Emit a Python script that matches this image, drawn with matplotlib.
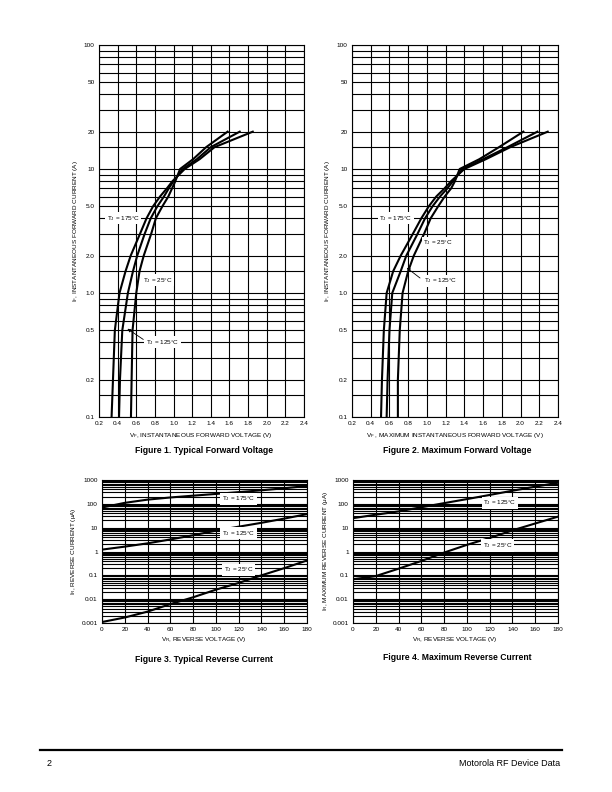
import matplotlib.pyplot as plt
import numpy as np

plt.rcParams['font.family'] = ['Liberation Sans', 'DejaVu Sans']
plt.rcParams['mathtext.default'] = 'regular'

# ── data ───────────────────────────────────────────────────────
fwd_current = [0.1, 0.2, 0.5, 1.0, 1.5, 2.0, 3.0, 4.0, 5.0, 6.0, 7.0, 8.0, 10.0, 12.0, 15.0, 20.0]

# Figure 1: typical forward voltage (V)
typ_vf_175 = [0.335, 0.35, 0.37, 0.42, 0.485, 0.54, 0.64, 0.71, 0.78, 0.855, 0.93, 0.99, 1.12, 1.28, 1.44, 1.85]
typ_vf_125 = [0.415, 0.425, 0.45, 0.51, 0.565, 0.61, 0.69, 0.755, 0.826, 0.897, 0.95, 1.00, 1.10, 1.25, 1.40, 1.71]
typ_vf_25 = [0.543, 0.55, 0.56, 0.60, 0.635, 0.68, 0.76, 0.81, 0.88, 0.944, 0.985, 1.02, 1.07, 1.21, 1.35, 1.58]

# Figure 2: maximum forward voltage (V)
max_vf_175 = [0.51, 0.52, 0.54, 0.57, 0.64, 0.72, 0.85, 0.94, 1.02, 1.10, 1.19, 1.26, 1.40, 1.63, 1.89, 2.29]
max_vf_125 = [0.57, 0.58, 0.60, 0.63, 0.72, 0.78, 0.90, 0.98, 1.06, 1.14, 1.22, 1.28, 1.38, 1.60, 1.86, 2.18]
max_vf_25 = [0.69, 0.69, 0.71, 0.74, 0.80, 0.86, 0.97, 1.04, 1.12, 1.19, 1.26, 1.30, 1.35, 1.56, 1.77, 2.03]

rev_voltage = [0, 20, 40, 60, 80, 100, 120, 140, 160, 180]

# Figure 3: typical reverse current (uA)
typ_ir_175 = [70, 110, 150, 185, 220, 260, 310, 370, 450, 560]
typ_ir_125 = [1.2, 1.6, 2.2, 3.2, 4.8, 7.5, 11, 16, 24, 37]
typ_ir_25 = [0.0011, 0.0017, 0.003, 0.0062, 0.012, 0.025, 0.048, 0.10, 0.20, 0.42]

# Figure 4: maximum reverse current (uA)
max_ir_125 = [25, 35, 48, 72, 107, 158, 236, 355, 525, 770]
max_ir_25 = [0.068, 0.093, 0.19, 0.40, 0.90, 1.9, 3.7, 7.7, 15, 29]

fwd_xticks = [0.2, 0.4, 0.6, 0.8, 1.0, 1.2, 1.4, 1.6, 1.8, 2.0, 2.2, 2.4]
fwd_yticks = [0.1, 0.2, 0.5, 1.0, 2.0, 5.0, 10, 20, 50, 100]
fwd_ylabels = ['0.1', '0.2', '0.5', '1.0', '2.0', '5.0', '10', '20', '50', '100']
rev_xticks = [0, 20, 40, 60, 80, 100, 120, 140, 160, 180]
rev_yticks = [0.001, 0.01, 0.1, 1, 10, 100, 1000]
rev_ylabels = ['0.001', '0.01', '0.1', '1', '10', '100', '1000']

W, H = 612, 792
fig = plt.figure(figsize=(W / 100, H / 100), dpi=100, facecolor='white')


def px_axes(l, t, r, b):
    return fig.add_axes([l / W, 1 - b / H, (r - l) / W, (b - t) / H])


def fig_text(x, y, s, **kw):
    fig.text(x / W, 1 - y / H, s, **kw)


TICK_FS = 4.6
LBL_FS = 4.6
GRID_LW = 0.8
CURVE_LW = 1.5


def style_ax(ax, xticks, yticks, ylabels, mantissas, decades):
    ax.set_yscale('log')
    ax.set_xticks(xticks)
    ax.set_xticklabels([f'{t:g}' if isinstance(t, int) else f'{t:.1f}' for t in xticks])
    ax.set_yticks(yticks)
    ax.set_yticklabels(ylabels)
    minor = [m * 10.0 ** d for d in decades for m in mantissas]
    ax.set_yticks(minor, minor=True)
    ax.set_yticklabels([], minor=True)
    ax.tick_params(which='both', length=0, labelsize=TICK_FS, pad=3)
    ax.grid(True, which='both', color='black', linewidth=GRID_LW)
    for s in ax.spines.values():
        s.set_linewidth(GRID_LW)
    ax.set_axisbelow(True)


def tj_label(ax, x, y, s):
    ax.text(x, y, s, ha='center', va='center', fontsize=LBL_FS, zorder=6,
            bbox=dict(facecolor='white', edgecolor='none', pad=1.2))


# ── Figure 1 ──────────────────────────────────────────────────
ax1 = px_axes(99, 45, 304, 417)
ax1.plot(typ_vf_175, fwd_current, color='black', lw=CURVE_LW, zorder=4)
ax1.plot(typ_vf_125, fwd_current, color='black', lw=CURVE_LW, zorder=4)
ax1.plot(typ_vf_25, fwd_current, color='black', lw=CURVE_LW, zorder=4)
ax1.set_xlim(0.2, 2.4)
ax1.set_ylim(0.1, 100)
style_ax(ax1, fwd_xticks, fwd_yticks, fwd_ylabels,
         [1, 1.5, 2, 3, 4, 5, 6, 7, 8, 9], [-1, 0, 1])
tj_label(ax1, 0.46, 4.0, 'T$_J$ = 175°C')
tj_label(ax1, 0.83, 1.27, 'T$_J$ = 25°C')
tj_label(ax1, 0.88, 0.40, 'T$_J$ = 125°C')
ax1.annotate('', xy=(0.48, 0.53), xytext=(0.70, 0.41),
             arrowprops=dict(arrowstyle='-|>', color='black', lw=0.6,
                             mutation_scale=5), zorder=5)

# ── Figure 2 ──────────────────────────────────────────────────
ax2 = px_axes(352, 45, 558, 417)
ax2.plot(max_vf_175, fwd_current, color='black', lw=CURVE_LW, zorder=4)
ax2.plot(max_vf_125, fwd_current, color='black', lw=CURVE_LW, zorder=4)
ax2.plot(max_vf_25, fwd_current, color='black', lw=CURVE_LW, zorder=4)
ax2.set_xlim(0.2, 2.4)
ax2.set_ylim(0.1, 100)
style_ax(ax2, fwd_xticks, fwd_yticks, fwd_ylabels,
         [1, 1.5, 2, 3, 4, 5, 6, 7, 8, 9], [-1, 0, 1])
tj_label(ax2, 0.67, 4.0, 'T$_J$ = 175°C')
tj_label(ax2, 1.12, 2.53, 'T$_J$ = 25°C')
tj_label(ax2, 1.15, 1.25, 'T$_J$ = 125°C')
ax2.annotate('', xy=(0.76, 1.65), xytext=(0.95, 1.28),
             arrowprops=dict(arrowstyle='-|>', color='black', lw=0.6,
                             mutation_scale=5), zorder=5)

# ── Figure 3 ──────────────────────────────────────────────────
ax3 = px_axes(102, 480, 307, 623)
ax3.plot(rev_voltage, typ_ir_175, color='black', lw=CURVE_LW, zorder=4)
ax3.plot(rev_voltage, typ_ir_125, color='black', lw=CURVE_LW, zorder=4)
ax3.plot(rev_voltage, typ_ir_25, color='black', lw=CURVE_LW, zorder=4)
ax3.set_xlim(0, 180)
ax3.set_ylim(0.001, 1000)
style_ax(ax3, rev_xticks, rev_yticks, rev_ylabels,
         [1, 2, 3, 4, 5, 6, 7, 8, 9], [-3, -2, -1, 0, 1, 2])
tj_label(ax3, 120, 160, 'T$_J$ = 175°C')
tj_label(ax3, 120, 5.9, 'T$_J$ = 125°C')
tj_label(ax3, 120, 0.17, 'T$_J$ = 25°C')

# ── Figure 4 ──────────────────────────────────────────────────
ax4 = px_axes(353, 480, 558, 623)
ax4.plot(rev_voltage, max_ir_125, color='black', lw=CURVE_LW, zorder=4)
ax4.plot(rev_voltage, max_ir_25, color='black', lw=CURVE_LW, zorder=4)
ax4.set_xlim(0, 180)
ax4.set_ylim(0.001, 1000)
style_ax(ax4, rev_xticks, rev_yticks, rev_ylabels,
         [1, 2, 3, 4, 5, 6, 7, 8, 9], [-3, -2, -1, 0, 1, 2])
tj_label(ax4, 129, 110, 'T$_J$ = 125°C')
tj_label(ax4, 127, 1.8, 'T$_J$ = 25°C')

# ── axis titles & captions ────────────────────────────────────
fig_text(201, 436, 'V$_F$, INSTANTANEOUS FORWARD VOLTAGE (V)', ha='center', va='center', fontsize=LBL_FS)
fig_text(455, 436, 'V$_F$ , MAXIMUM INSTANTANEOUS FORWARD VOLTAGE (V)', ha='center', va='center', fontsize=LBL_FS)
fig_text(204, 640, 'V$_R$, REVERSE VOLTAGE (V)', ha='center', va='center', fontsize=LBL_FS)
fig_text(455, 640, 'V$_R$, REVERSE VOLTAGE (V)', ha='center', va='center', fontsize=LBL_FS)

fig_text(76, 231, 'I$_F$, INSTANTANEOUS FORWARD CURRENT (A)', ha='center', va='center',
         rotation=90, fontsize=LBL_FS)
fig_text(328, 231, 'I$_F$, INSTANTANEOUS FORWARD CURRENT (A)', ha='center', va='center',
         rotation=90, fontsize=LBL_FS)
fig_text(73, 551, 'I$_R$, REVERSE CURRENT (μA)', ha='center', va='center',
         rotation=90, fontsize=LBL_FS)
fig_text(325, 551, 'I$_R$, MAXIMUM REVERSE CURRENT (μA)', ha='center', va='center',
         rotation=90, fontsize=LBL_FS)

fig_text(204, 450, 'Figure 1. Typical Forward Voltage', ha='center', va='center',
         fontsize=6.2, fontweight='bold')
fig_text(457, 450, 'Figure 2. Maximum Forward Voltage', ha='center', va='center',
         fontsize=6.2, fontweight='bold')
fig_text(204, 660, 'Figure 3. Typical Reverse Current', ha='center', va='center',
         fontsize=6.2, fontweight='bold')
fig_text(457, 658, 'Figure 4. Maximum Reverse Current', ha='center', va='center',
         fontsize=6.2, fontweight='bold')

# ── footer ────────────────────────────────────────────────────
fig.add_artist(plt.Line2D([40 / W, 562 / W], [1 - 750 / H, 1 - 750 / H],
                          color='black', linewidth=1.6))
fig_text(47, 763, '2', ha='left', va='center', fontsize=6.5)
fig_text(560, 763, 'Motorola RF Device Data', ha='right', va='center', fontsize=6.5)

fig.savefig('out.png', dpi=100, facecolor='white')
